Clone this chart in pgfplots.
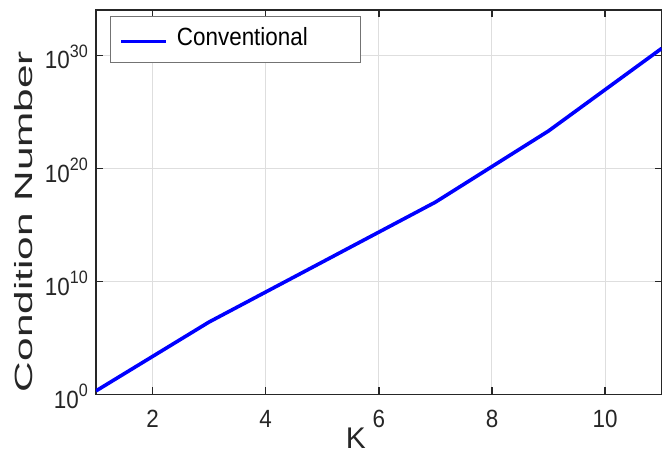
\documentclass[border=0pt]{standalone}
\usepackage{fontspec}
\usepackage{pgfplots}
\pgfplotsset{compat=1.18}
\setmainfont{Liberation Sans}
\newfontfamily\tickfam[FakeStretch=0.9]{Liberation Sans}
\newfontfamily\ylabfam[FakeStretch=1.7]{Liberation Sans}
\newcommand\tickfont{\tickfam\fontsize{25}{30}\selectfont}
\newcommand\supfont{\fontsize{18}{20}\selectfont}
\definecolor{axgray}{HTML}{262626}
\definecolor{gridgray}{HTML}{DEDEDE}
\newcommand\tenp[1]{10\raisebox{11.3bp}{\supfont #1}}
\begin{document}
\begin{tikzpicture}
\path[use as bounding box] (-96bp,-60.7bp) rectangle (572bp,394.3bp);
\begin{axis}[
  at={(0,0)}, anchor=south west,
  scale only axis,
  width=565.7bp, height=384.3bp,
  xmin=1, xmax=11,
  ymode=log, ymin=1, ymax=1e34,
  xtick={2,4,6,8,10},
  xticklabels={2,4,6,8,10},
  ytick={1,1e10,1e20,1e30},
  yticklabels={\tenp{0},\tenp{10},\tenp{20},\tenp{30}},
  minor tick num=0,
  yminorticks=false,
  grid=major,
  major grid style={draw=gridgray, line width=1bp},
  axis line style={draw=axgray, line width=1.3bp},
  tick style={draw=axgray, line width=1.3bp},
  tick align=inside,
  major tick length=7bp,
  ticklabel style={font=\tickfont, text=axgray},
  xticklabel style={anchor=base, yshift=-33bp},
  yticklabel style={anchor=east, inner sep=0pt, xshift=-8bp, yshift=-2bp},
  xlabel={K},
  xlabel style={at={(axis description cs:0.4595,-0.1405)}, anchor=base, inner sep=0pt, text depth=0pt, font=\fontsize{30}{34}\selectfont, text=axgray},
  ylabel={Condition Number},
  ylabel style={at={(axis description cs:-0.1114,0.4497)}, anchor=base, font=\ylabfam\fontsize{25}{30}\selectfont, text=axgray},
  legend image code/.code={\path (0bp,-14bp) (0bp,9bp);\draw[#1] (0bp,-3.3bp) -- (45bp,-3.3bp);},
  legend style={at={(axis description cs:0.0247,0.984)}, anchor=north west,
    draw=black!55, line width=0.8bp, fill=white,
    inner xsep=9bp, inner ysep=9bp,
    font=\tickfont,
    nodes={inner sep=0pt, text width=174bp, align=left, text height=20bp, text depth=5bp},
    /tikz/every odd column/.style={column sep=9bp}},
]
\addplot[color=blue, line width=3.6bp] coordinates {
  (1,2) (3,2.5e6) (5,5e11) (7,1e17) (9,2e23) (11,4e30)
};
\addlegendentry{Conventional}
\end{axis}
\end{tikzpicture}
\end{document}
